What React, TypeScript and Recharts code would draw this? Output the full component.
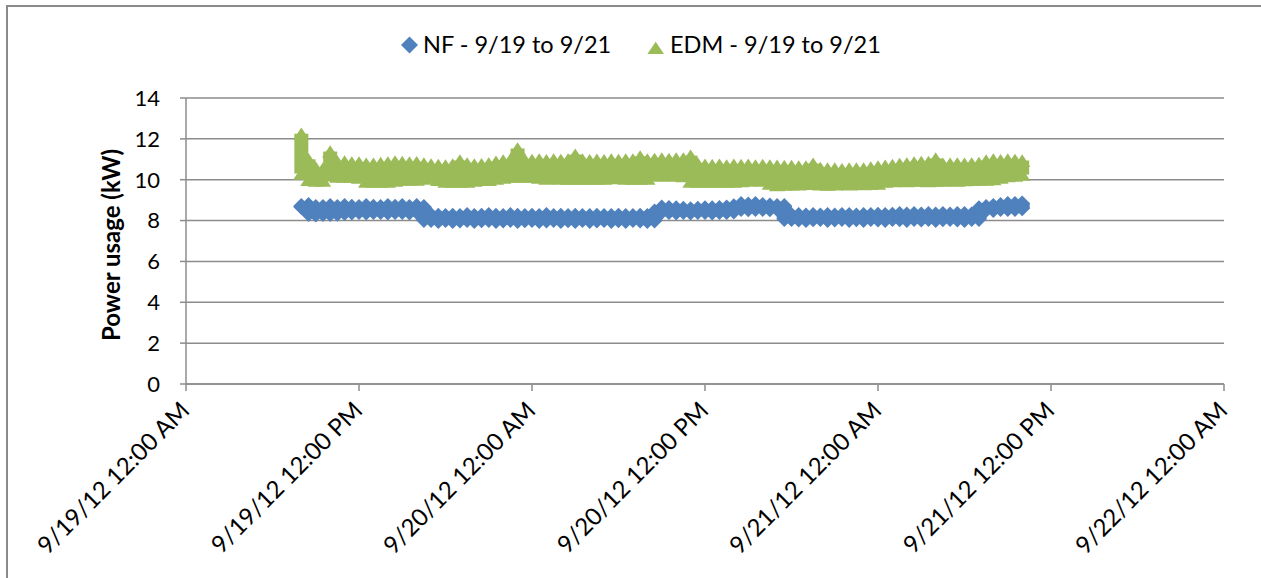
import React from 'react';
import { ScatterChart, Scatter, XAxis, YAxis, CartesianGrid, ErrorBar } from 'recharts';

// Sampling: readings every 30 minutes, starting 9/19/12 08:00 (hours since 9/19/12 00:00)
const START_HOUR = 8;
const STEP_HOURS = 0.5;

// NF series: upper / lower reading of each half-hour slot (kW)
const nfHigh = [
  8.71, 8.76, 8.66, 8.66, 8.71, 8.66, 8.71, 8.68, 8.66, 8.71,
  8.68, 8.66, 8.71, 8.68, 8.71, 8.66, 8.71, 8.66, 8.27, 8.24,
  8.22, 8.24, 8.22, 8.27, 8.22, 8.24, 8.27, 8.24, 8.22, 8.27,
  8.24, 8.22, 8.24, 8.22, 8.27, 8.22, 8.24, 8.22, 8.24, 8.22,
  8.22, 8.24, 8.22, 8.22, 8.24, 8.22, 8.22, 8.24, 8.22, 8.45,
  8.64, 8.62, 8.6, 8.58, 8.56, 8.58, 8.6, 8.6, 8.62, 8.64,
  8.7, 8.81, 8.79, 8.81, 8.76, 8.74, 8.71, 8.71, 8.27, 8.27,
  8.25, 8.27, 8.25, 8.27, 8.25, 8.27, 8.27, 8.25, 8.27, 8.27,
  8.29, 8.27, 8.29, 8.32, 8.3, 8.32, 8.3, 8.32, 8.3, 8.32,
  8.3, 8.32, 8.32, 8.3, 8.6, 8.66, 8.71, 8.76, 8.81, 8.81,
  8.84,
];
const nfLow = [
  8.66, 8.32, 8.3, 8.32, 8.32, 8.34, 8.37, 8.4, 8.42, 8.4,
  8.42, 8.42, 8.4, 8.42, 8.42, 8.4, 8.42, 8.03, 8.03, 7.98,
  8.03, 7.98, 8.0, 8.03, 7.98, 8.01, 8.03, 7.98, 8.0, 8.03,
  7.98, 8.01, 8.03, 7.98, 8.0, 8.03, 7.98, 8.01, 7.98, 8.03,
  7.98, 8.0, 8.03, 7.98, 8.01, 7.98, 8.03, 8.0, 7.98, 8.0,
  8.42, 8.42, 8.4, 8.42, 8.4, 8.42, 8.42, 8.4, 8.42, 8.42,
  8.45, 8.57, 8.55, 8.57, 8.57, 8.55, 8.57, 8.08, 8.08, 8.05,
  8.03, 8.06, 8.08, 8.03, 8.05, 8.08, 8.03, 8.06, 8.03, 8.08,
  8.05, 8.03, 8.08, 8.06, 8.03, 8.08, 8.05, 8.08, 8.03, 8.06,
  8.08, 8.05, 8.03, 8.08, 8.08, 8.52, 8.52, 8.57, 8.57, 8.57,
  8.6,
];

// EDM series: upper / lower reading of each half-hour slot (kW)
const edmHigh = [
  12.25, 11.0, 10.6, 10.55, 11.38, 10.9, 10.89, 10.85, 10.85, 10.79,
  10.79, 10.82, 10.85, 10.89, 10.87, 10.85, 10.86, 10.8, 10.75, 10.72,
  10.7, 10.75, 10.94, 10.8, 10.75, 10.76, 10.8, 10.88, 10.94, 10.99,
  11.53, 10.99, 10.97, 10.99, 10.96, 10.99, 10.97, 10.99, 11.23, 10.99,
  10.96, 10.98, 10.96, 10.99, 10.97, 10.99, 10.99, 11.14, 10.99, 11.02,
  11.04, 11.02, 11.04, 11.04, 11.18, 10.8, 10.74, 10.72, 10.74, 10.7,
  10.74, 10.72, 10.74, 10.7, 10.72, 10.7, 10.68, 10.67, 10.67, 10.65,
  10.65, 10.79, 10.58, 10.55, 10.55, 10.52, 10.55, 10.55, 10.55, 10.6,
  10.65, 10.68, 10.72, 10.77, 10.8, 10.85, 10.87, 10.87, 11.04, 10.79,
  10.79, 10.8, 10.79, 10.8, 10.82, 10.94, 10.99, 10.96, 10.99, 10.97,
  10.94,
];
const edmLow = [
  10.3, 10.0, 9.96, 9.96, 10.21, 10.16, 10.16, 10.16, 10.1, 9.91,
  9.91, 9.91, 9.91, 9.96, 10.01, 10.01, 10.01, 10.06, 10.11, 10.0,
  9.91, 9.91, 9.91, 9.91, 9.96, 10.01, 10.0, 10.06, 10.11, 10.16,
  10.16, 10.16, 10.16, 10.1, 10.06, 10.11, 10.06, 10.06, 10.06, 10.06,
  10.06, 10.06, 10.06, 10.08, 10.11, 10.06, 10.06, 10.06, 10.06, 10.21,
  10.21, 10.21, 10.21, 10.18, 9.91, 9.91, 9.91, 9.91, 9.91, 9.91,
  9.91, 9.93, 9.96, 10.01, 9.96, 9.81, 9.74, 9.76, 9.78, 9.78,
  9.8, 9.81, 9.78, 9.76, 9.78, 9.8, 9.78, 9.81, 9.79, 9.8,
  9.81, 9.91, 9.94, 9.96, 9.94, 9.96, 9.96, 9.94, 9.96, 9.96,
  9.98, 9.96, 9.98, 10.0, 10.01, 10.01, 10.03, 10.11, 10.18, 10.2,
  10.25,
];

const xTicks = [0, 12, 24, 36, 48, 60, 72];
const xTickLabels = [
  '9/19/12 12:00 AM',
  '9/19/12 12:00 PM',
  '9/20/12 12:00 AM',
  '9/20/12 12:00 PM',
  '9/21/12 12:00 AM',
  '9/21/12 12:00 PM',
  '9/22/12 12:00 AM',
];
const yTicks = [0, 2, 4, 6, 8, 10, 12, 14];

const seriesNames = ['NF - 9/19 to 9/21', 'EDM - 9/19 to 9/21'];

const BLUE = '#4F81BD';
const GREEN = '#9BBB59';
const GRID = '#8c8c8c';
const FONT = 'Lato, "Open Sans", sans-serif';

const W = 1261;
const H = 578;

const times = nfHigh.map((_, i) => START_HOUR + i * STEP_HOURS);

const makeHigh = (hi: number[], lo: number[]) =>
  hi.map((v, i) => ({ t: times[i], y: v, err: [v - lo[i], 0] }));
const makeLow = (lo: number[]) => lo.map((v, i) => ({ t: times[i], y: v }));

const nfHighPts = makeHigh(nfHigh, nfLow);
const nfLowPts = makeLow(nfLow);
const edmHighPts = makeHigh(edmHigh, edmLow);
const edmLowPts = makeLow(edmLow);

const Diamond = (props: any) => {
  const { cx, cy } = props;
  if (cx == null || cy == null) return null;
  const r = 8;
  return <path d={`M${cx},${cy - r}L${cx + r},${cy}L${cx},${cy + r}L${cx - r},${cy}Z`} fill={BLUE} />;
};

const Triangle = (props: any) => {
  const { cx, cy } = props;
  if (cx == null || cy == null) return null;
  return <path d={`M${cx},${cy - 6.2}L${cx + 8.2},${cy + 6.2}L${cx - 8.2},${cy + 6.2}Z`} fill={GREEN} />;
};

const XTick = (props: any) => {
  const { x, y, payload } = props;
  const idx = xTicks.indexOf(payload.value);
  const label = idx >= 0 ? xTickLabels[idx] : '';
  const ax = x + 5;
  const ay = y + 19;
  return (
    <text
      x={ax}
      y={ay}
      transform={`rotate(-45 ${ax} ${ay})`}
      textAnchor="end"
      fontSize={24}
      fontFamily={FONT}
      fill="#000"
    >
      {label}
    </text>
  );
};

export default function App() {
  return (
    <div
      style={{
        position: 'absolute',
        left: 0,
        top: 0,
        width: W,
        height: H,
        overflow: 'hidden',
        background: '#fff',
        fontFamily: FONT,
      }}
    >
      <div
        style={{
          position: 'absolute',
          left: 6,
          top: 5,
          width: W + 20,
          height: H + 20,
          borderLeft: '2px solid #8a8a8a',
          borderTop: '2px solid #8a8a8a',
        }}
      />
      <div style={{ position: 'absolute', left: 0, top: 0 }}>
        <ScatterChart width={W} height={H} margin={{ top: 98, right: 37, bottom: 0, left: 0 }}>
          <CartesianGrid horizontal vertical={false} stroke={GRID} strokeWidth={1.5} />
          <XAxis
            type="number"
            dataKey="t"
            domain={[0, 72]}
            ticks={xTicks}
            interval={0}
            height={194}
            tickSize={7}
            tick={<XTick />}
            axisLine={{ stroke: GRID, strokeWidth: 1.5 }}
            tickLine={{ stroke: GRID, strokeWidth: 1.5 }}
            allowDataOverflow
          />
          <YAxis
            type="number"
            dataKey="y"
            domain={[0, 14]}
            ticks={yTicks}
            interval={0}
            width={186}
            tickSize={6}
            tickMargin={20}
            tick={{ fill: '#000', fontSize: 22, fontFamily: FONT }}
            axisLine={{ stroke: GRID, strokeWidth: 1.5 }}
            tickLine={{ stroke: GRID, strokeWidth: 1.5 }}
            allowDataOverflow
          />
          <Scatter name={seriesNames[1]} data={edmHighPts} shape={<Triangle />} fill={GREEN} isAnimationActive={false}>
            <ErrorBar dataKey="err" direction="y" width={0} stroke={GREEN} strokeWidth={14} isAnimationActive={false} />
          </Scatter>
          <Scatter name={seriesNames[1] + ' low'} data={edmLowPts} shape={<Triangle />} fill={GREEN} isAnimationActive={false} />
          <Scatter name={seriesNames[0]} data={nfHighPts} shape={<Diamond />} fill={BLUE} isAnimationActive={false}>
            <ErrorBar dataKey="err" direction="y" width={0} stroke={BLUE} strokeWidth={15} isAnimationActive={false} />
          </Scatter>
          <Scatter name={seriesNames[0] + ' low'} data={nfLowPts} shape={<Diamond />} fill={BLUE} isAnimationActive={false} />
        </ScatterChart>
      </div>
      <svg width={W} height={H} style={{ position: 'absolute', left: 0, top: 0, pointerEvents: 'none' }}>
        <path d="M409.5,36.5L418,45L409.5,53.5L401,45Z" fill={BLUE} />
        <text x={423} y={53} fontSize={23.5} fontFamily={FONT} fill="#000">
          {seriesNames[0]}
        </text>
        <path d="M655.7,41.7L664,54L647.4,54Z" fill={GREEN} />
        <text x={670} y={53} fontSize={23.5} fontFamily={FONT} fill="#000">
          {seriesNames[1]}
        </text>
        <text
          x={120}
          y={245}
          transform="rotate(-90 120 245)"
          textAnchor="middle"
          fontSize={24}
          fontWeight="bold"
          fontFamily={FONT}
          fill="#000"
        >
          Power usage (kW)
        </text>
      </svg>
    </div>
  );
}
